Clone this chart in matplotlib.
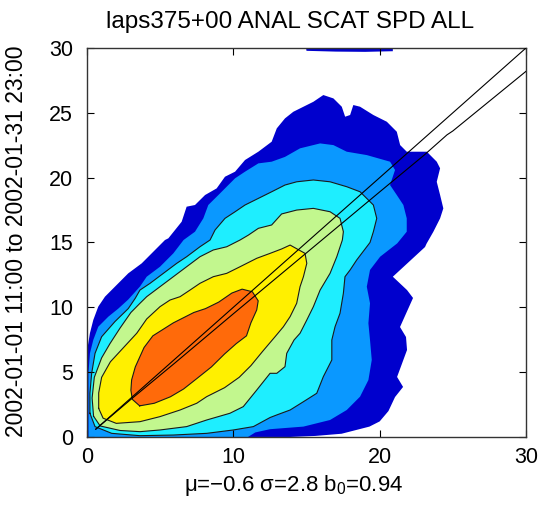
import matplotlib
matplotlib.use("Agg")
import matplotlib.pyplot as plt

plt.rcParams['font.family'] = ['Liberation Sans', 'DejaVu Sans']
plt.rcParams['mathtext.fontset'] = 'custom'
plt.rcParams['mathtext.rm'] = 'Liberation Sans'
plt.rcParams['mathtext.it'] = 'Liberation Sans'

# ---- data (contour polygons, outermost first) ----
dark_x = [0, 0.05, 0.2, 0.43, 0.77, 1.23, 1.91, 2.82, 3.74, 4.42, 5.33, 5.56, 6.47, 6.81, 7.38, 8.07,
          8.86, 9.43, 10.12, 10.8, 11.71, 12.62, 12.97, 13.53, 14.1, 15.47, 16.15, 16.84, 17.41, 17.64,
          17.98, 18.2, 18.66, 19.57, 20.49, 21.17, 21.4, 21.85, 23.22, 23.9, 24.13, 23.9, 24.13, 24.35,
          24.13, 23.67, 23.2, 23.1, 20.9, 21.87, 22.28, 21.39, 21.8, 21.87, 21.19, 21.6, 21.05, 20.6,
          20.0, 19.3, 17.4, 15.6, 13.9]
dark_y = [0, 6.96, 8.0, 9.02, 10.05, 10.82, 11.59, 12.62, 13.39, 14.16, 15.19, 15.32, 16.6, 17.76, 17.89,
          18.66, 19.17, 20.07, 20.46, 21.36, 22.0, 22.77, 23.8, 24.57, 25.08, 25.85, 26.37, 26.11, 25.47,
          24.7, 24.83, 25.6, 25.47, 24.83, 24.31, 23.54, 22.51, 22.0, 22.0, 21.23, 20.72, 19.68, 18.66,
          17.63, 16.86, 15.83, 14.9, 14.65, 12.36, 11.33, 10.72, 8.48, 7.71, 6.71, 4.63, 3.86, 3.08, 2.0,
          1.2, 0.8, 0.25, 0.08, 0]
cap_x = [14.9, 20.9, 20.9, 19.0, 17.0, 15.0]
cap_y = [30.5, 30.5, 29.75, 29.7, 29.72, 29.78]

mid_x = [0.1, 0.1, 0.2, 0.43, 0.77, 1.46, 2.14, 2.82, 3.62, 4.08, 4.99, 5.9, 6.6, 7.38, 7.95, 8.29, 8.98,
         9.43, 10.12, 10.8, 11.71, 12.62, 13.53, 14.56, 15.93, 16.84, 17.75, 19.12, 20.71, 21.05, 20.71,
         21.17, 21.62, 21.85, 21.85, 21.2, 20.03, 19.34, 19.12, 19.34, 19.23, 19.34, 19.46, 19.23, 18.66,
         17.75, 16.61, 14.79, 12.51, 11.5, 11.0]
mid_y = [0, 4.91, 6.45, 7.48, 8.5, 9.28, 9.9, 10.6, 11.6, 12.36, 13.13, 14.16, 15.19, 15.83, 16.86, 17.89,
         18.66, 19.17, 19.95, 20.46, 21.1, 21.23, 21.6, 22.26, 22.64, 22.51, 22.0, 21.74, 21.23, 20.59,
         19.43, 18.66, 17.89, 16.86, 15.83, 14.93, 13.9, 12.88, 11.59, 10.31, 8.77, 7.48, 5.94, 4.39, 3.11,
         2.08, 1.31, 0.8, 0.6, 0.35, 0.0]

cyan_x = [0.2, 0.2, 0.32, 0.55, 1.0, 1.91, 2.82, 3.3, 3.62, 4.31, 5.22, 6.13, 6.81, 7.72, 8.41, 8.75, 9.43,
          10.12, 10.8, 11.71, 12.62, 13.53, 14.33, 15.47, 16.61, 17.75, 18.66, 19.57, 19.8, 19.57, 19.34,
          18.43, 17.98, 17.63, 17.52, 17.29, 16.95, 16.73, 16.73, 16.15, 15.7, 14.79, 13.88, 12.97, 12.51,
          11.37, 10.0, 8.18, 5.9, 3.62, 1.69, 0.55]
cyan_y = [1.83, 3.37, 4.91, 6.45, 7.73, 8.9, 9.9, 10.7, 11.33, 11.85, 12.62, 13.39, 13.9, 14.67, 15.19,
          15.96, 16.86, 17.37, 17.89, 18.4, 18.91, 19.43, 19.68, 19.82, 19.68, 19.3, 18.91, 17.89, 16.86,
          15.83, 15.0, 13.65, 12.88, 12.36, 11.08, 9.54, 8.5, 7.48, 5.94, 4.65, 3.37, 2.72, 2.08, 1.7, 1.5,
          0.8, 0.54, 0.28, 0.15, 0.1, 0.28, 0.8]

green_x = [0.45, 0.35, 0.5, 1.0, 1.57, 2.26, 3.0, 3.62, 4.08, 4.99, 5.9, 6.81, 7.72, 8.63, 9.55, 10.46,
           11.03, 11.71, 12.62, 13.3, 14.33, 15.47, 16.61, 17.29, 17.52, 17.45, 17.07, 16.61, 15.93, 15.47,
           15.02, 14.56, 14.15, 13.65, 13.53, 12.97, 12.51, 11.6, 10.68, 9.77, 8.18, 6.81, 4.99, 3.62,
           2.26, 0.9]
green_y = [1.6, 3.0, 4.6, 6.1, 7.2, 8.4, 9.6, 10.31, 10.82, 11.59, 12.36, 13.13, 13.9, 14.42, 14.67, 15.19,
           15.57, 16.09, 16.35, 17.2, 17.5, 17.63, 17.37, 16.86, 15.83, 15.19, 13.9, 12.62, 11.33, 10.05,
           9.02, 8.0, 7.48, 6.45, 5.42, 4.91, 4.91, 3.62, 2.34, 1.83, 1.31, 0.8, 0.54, 0.41, 0.5, 0.85]

yellow_x = [0.8, 0.8, 1.0, 1.6, 2.5, 3.4, 4.08, 4.99, 5.67, 6.36, 7.04, 7.72, 8.63, 9.55, 10.46, 11.6,
            12.51, 13.3, 13.88, 14.9, 15.02, 14.79, 14.56, 14.33, 13.88, 13.42, 12.85, 12.0, 11.2, 10.4,
            9.4, 8.18, 7.5, 6.36, 4.99, 3.62, 2.0, 1.1]
yellow_y = [2.2, 3.4, 4.6, 5.8, 6.9, 8.0, 9.1, 10.05, 10.56, 10.82, 11.33, 11.85, 12.36, 12.62, 13.13,
            13.78, 14.16, 14.5, 14.8, 14.16, 13.39, 12.36, 11.59, 10.31, 9.28, 8.5, 7.73, 6.6, 5.5, 4.6,
            3.8, 3.11, 2.6, 2.08, 1.57, 1.18, 1.05, 1.45]

orange_x = [3.6, 3.1, 3.0, 3.05, 3.3, 3.9, 4.5, 5.2, 5.9, 6.6, 7.3, 8.1, 9.0, 9.9, 10.6, 11.3, 11.7, 11.6,
            11.2, 10.9, 10.2, 9.4, 8.5, 7.5, 6.6, 5.7, 4.6]
orange_y = [2.4, 2.9, 3.6, 4.4, 5.4, 6.9, 7.8, 8.3, 8.8, 9.2, 9.6, 9.9, 10.4, 11.1, 11.4, 11.2, 10.5, 9.8,
            8.8, 7.8, 7.2, 6.4, 5.4, 4.5, 3.7, 3.1, 2.6]

# reference 1:1 line and fitted line
one_x = [0.6, 30]
one_y = [0.6, 30]
fit_x = [0.6, 3, 6, 10, 15, 20, 23, 24.6, 25, 30]
fit_y = [0.6, 2.9, 5.7, 9.5, 14.2, 18.9, 21.7, 23.3, 23.6, 28.2]

x_ticks = [0, 10, 20, 30]
y_ticks = [0, 5, 10, 15, 20, 25, 30]

title = "laps375+00 ANAL SCAT SPD ALL"
xlabel = "μ=−0.6 σ=2.8 b$_0$=0.94"
ylabel = "2002-01-01 11:00 to 2002-01-31 23:00"

# ---- drawing ----
fig = plt.figure(figsize=(5.43, 5.05), dpi=100)
ax = fig.add_axes([0.1602, 0.1347, 0.8085, 0.7703])

levels = [
    (dark_x, dark_y, "#0000CD", False),
    (cap_x, cap_y, "#0000CD", False),
    (mid_x, mid_y, "#0A98FF", False),
    (cyan_x, cyan_y, "#1EEEFF", True),
    (green_x, green_y, "#C2F78E", True),
    (yellow_x, yellow_y, "#FFF000", True),
    (orange_x, orange_y, "#FF6A0A", True),
]
for xs, ys, col, edge in levels:
    ax.fill(xs, ys, color=col, lw=0, zorder=1)
    if edge:
        ax.plot(list(xs) + [xs[0]], list(ys) + [ys[0]], color="#1a1a1a", lw=0.8, zorder=2)

ax.plot(one_x, one_y, color="black", lw=0.8, zorder=3)
ax.plot(fit_x, fit_y, color="black", lw=0.8, zorder=3)

ax.set_xlim(0, 30)
ax.set_ylim(0, 30)
ax.set_xticks(x_ticks)
ax.set_yticks(y_ticks)
ax.tick_params(direction="in", top=True, right=True, length=5, width=0.8,
               labelsize=15.5, pad=7)
ax.tick_params(axis="y", pad=10)
for s in ax.spines.values():
    s.set_linewidth(1.0)
    s.set_color("#333333")

fig.text(290 / 543, 1 - 22 / 505, title, ha="center", va="center", fontsize=17.5)
fig.text(294 / 543, 1 - 485 / 505, xlabel, ha="center", va="center", fontsize=16)
fig.text(17 / 543, 1 - 241 / 505, ylabel, ha="center", va="center", rotation=90, fontsize=16.5)

fig.savefig("out.png", dpi=100)
